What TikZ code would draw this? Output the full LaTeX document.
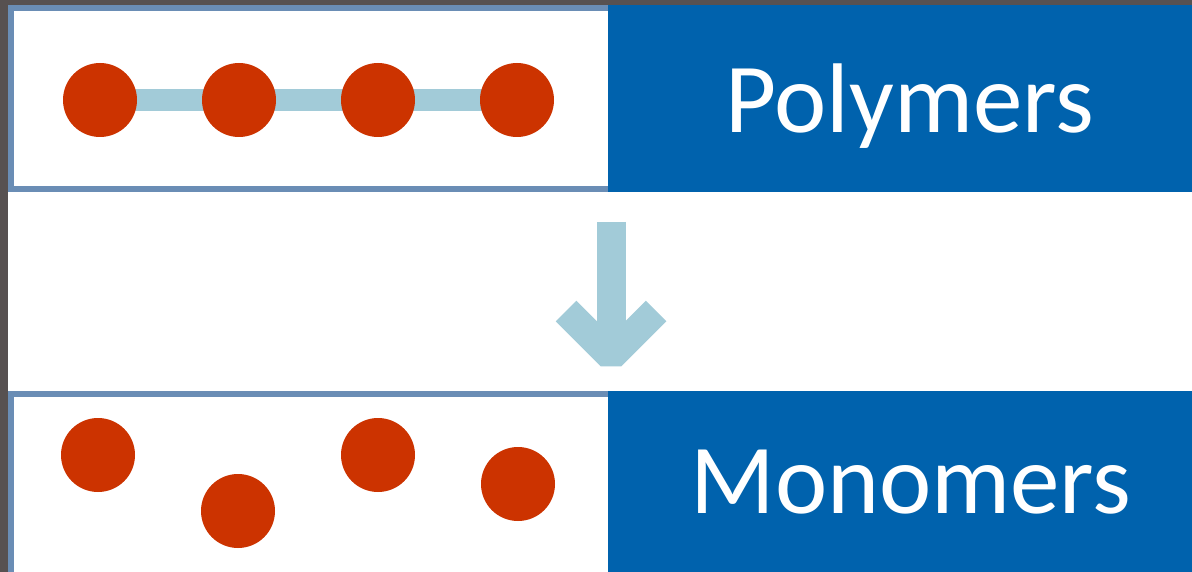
\documentclass[tikz,border=0pt]{standalone}
\usepackage{fontspec}
\setmainfont{Carlito}
\usetikzlibrary{calc}
\pgfdeclarelayer{boxes}
\pgfdeclarelayer{bonds}
\pgfsetlayers{boxes,bonds,main}
\definecolor{frame}{HTML}{575151}
\definecolor{panelborder}{HTML}{6A8DB5}
\definecolor{panelblue}{HTML}{0062AD}
\definecolor{atomred}{HTML}{CC3300}
\definecolor{lightblue}{HTML}{A2CBD8}
\tikzset{
  whitepanel/.style={draw=panelborder, line width=6pt, fill=white, rectangle, inner sep=0pt},
  bluepanel/.style={fill=panelblue, rectangle, inner sep=0pt},
  atom/.style={circle, fill=atomred, minimum size=74pt, inner sep=0pt},
  bond/.style={draw=lightblue, line width=22pt},
  bigarrow/.style={draw=lightblue, line width=29pt, line join=bevel, line cap=butt},
  label/.style={text=white, anchor=base, inner sep=0pt, font=\fontsize{99}{100}\selectfont},
}
\begin{document}
\begin{tikzpicture}[x=1pt, y=-1pt]
\useasboundingbox (0,0) rectangle (1192,572);
\begin{pgfonlayer}{boxes}
  \fill[frame] (0,0) rectangle (1192,572);
  \fill[white] (8,5) rectangle (1192,572);
  \begin{scope}
    \clip (8,5) rectangle (1192,572);
    \node[whitepanel, minimum width=600pt, minimum height=181pt] (toppanel) at (311,98.5) {};
    \node[whitepanel, minimum width=600pt, minimum height=200pt] (botpanel) at (311,494) {};
    \node[bluepanel, minimum width=584pt, minimum height=187pt] (topblue) at (900,98.5) {};
    \node[bluepanel, minimum width=584pt, minimum height=190pt] (botblue) at (900,486) {};
  \end{scope}
\end{pgfonlayer}

% polymer chain
\node[atom] (p1) at (100,100) {};
\node[atom] (p2) at (239,100) {};
\node[atom] (p3) at (378,100) {};
\node[atom] (p4) at (517,100) {};
\begin{pgfonlayer}{bonds}
  \draw[bond] (p1.center) -- (p2.center) -- (p3.center) -- (p4.center);
\end{pgfonlayer}

% monomers
\node[atom] (m1) at (98,455) {};
\node[atom] (m2) at (238,511) {};
\node[atom] (m3) at (378,455) {};
\node[atom] (m4) at (518,484) {};

% labels
\node[label] (ptext) at (910,133) {Polymers};
\node[label] (mtext) at (911,513) {Monomers};

% arrow
\coordinate (atop) at (611,222);
\coordinate (avert) at (611,356);
\draw[bigarrow] (atop) -- (avert);
\draw[bigarrow] ($(avert)+(-45,-45)$) -- (avert) -- ($(avert)+(45,-45)$);
\end{tikzpicture}
\end{document}
